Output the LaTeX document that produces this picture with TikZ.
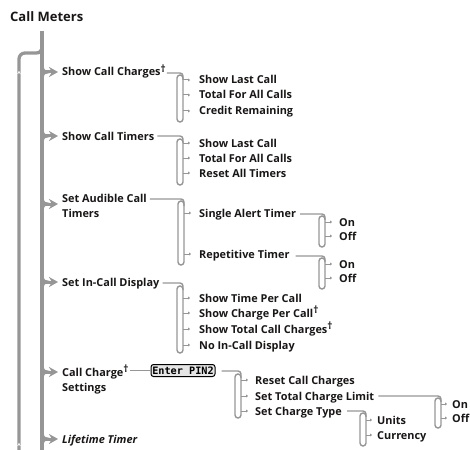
\documentclass[tikz,border=0pt]{standalone}
\usepackage{fontspec}
\setmainfont{Open Sans}
\newfontfamily\lcdfont{DejaVu Sans Mono}
\usetikzlibrary{arrows.meta,calc}
\definecolor{ln}{RGB}{150,150,150}
\definecolor{txt}{RGB}{25,22,22}
\newcommand{\trunkcusp}[1]{\draw[trunk] (42,#1-8) .. controls (42,#1-3) and (43,#1) .. (47,#1) .. controls (43,#1) and (42,#1+3) .. (42,#1+8);}
\newcommand{\mydagger}{\raisebox{3.2pt}{\fontsize{10}{10}\selectfont\bfseries †}}
\begin{document}
\begin{tikzpicture}[x=1pt,y=-1pt,
  trunk/.style={draw=ln,line width=3.3pt},
  sub/.style={draw=ln,line width=1.4pt,rounded corners=3pt},
  tick/.style={draw=ln,line width=1pt,-{Triangle[length=2pt,width=3pt]}},
  itm/.style={inner sep=0pt,anchor=west,text=txt,font=\fontsize{10.9}{15}\selectfont\bfseries,text height=8pt,text depth=0pt},
  mainarr/.style={draw=ln,line width=3pt,-{Stealth[length=9pt,width=10pt]}},
  pinbox/.style={draw=black,line width=1pt,fill=black!10,rounded corners=2.5pt,minimum width=64pt,minimum height=12pt,inner sep=0pt,font=\lcdfont\bfseries\fontsize{10.2}{10}\selectfont}]
\useasboundingbox (0,0) rectangle (470,449);

% title
\node[itm,font=\fontsize{13}{15}\selectfont\bfseries,text height=9pt] (title) at (10,17) {Call Meters};

% trunk and loop
\draw[trunk] (42,31) -- (42,452);
\draw[trunk] (42,46) .. controls (42,51) and (40,53) .. (36,53) [rounded corners=6pt] -- (19,53) -- (19,452);
\draw[white,line width=0.7pt] (17.6,74) -- (19,71.5) -- (20.4,74);
\draw[white,line width=0.7pt] (17.6,446) -- (19,443.5) -- (20.4,446);

% main items
\node[itm] (m1) at (62,72) {Show Call Charges\mydagger};
\node[itm] (m2) at (62,136) {Show Call Timers};
\node[itm] (m3a) at (62,198) {Set Audible Call};
\node[itm] (m3b) at (62,213) {Timers};
\node[itm] (m4) at (62,282) {Set In-Call Display};
\node[itm] (m5a) at (62,372) {Call Charge\mydagger};
\node[itm] (m5b) at (62,387) {Settings};
\node[itm,font=\fontsize{10.9}{15}\selectfont\bfseries\itshape] (m6) at (62,439) {Lifetime Timer};

\foreach \yy in {72,136,204,282,372,439} {\trunkcusp{\yy}}
\coordinate (t1) at (45,72);
\coordinate (t2) at (45,136);
\coordinate (t3) at (45,204);
\coordinate (t4) at (45,282);
\coordinate (t5) at (45,372);
\coordinate (t6) at (45,439);
\coordinate (e3) at (58,204);
\coordinate (e5) at (58,372);
\draw[mainarr,shorten >=4pt] (t1) -- (m1.west);
\draw[mainarr,shorten >=4pt] (t2) -- (m2.west);
\draw[mainarr] (t3) -- (e3);
\draw[mainarr,shorten >=4pt] (t4) -- (m4.west);
\draw[mainarr] (t5) -- (e5);
\draw[mainarr,shorten >=4pt] (t6) -- (m6.west);

% group 1
\node[itm] (a1) at (199,80) {Show Last Call};
\node[itm] (a2) at (199,95) {Total For All Calls};
\node[itm] (a3) at (199,111) {Credit Remaining};
\draw[sub] (177,75) rectangle (183,122);
\draw[sub,shorten <=1pt] (m1.east |- 0,73) -- (183,73) -- (183,80);
\foreach \c in {a1,a2,a3} \draw[tick,shorten >=9pt] (183,0 |- \c.west) -- (\c.west);

% group 2
\node[itm] (b1) at (199,143) {Show Last Call};
\node[itm] (b2) at (199,158) {Total For All Calls};
\node[itm] (b3) at (199,173) {Reset All Timers};
\draw[sub] (177,139) rectangle (183,185);
\draw[sub,shorten <=3pt] (m2.east |- 0,136) -- (183,136) -- (183,143);
\foreach \c in {b1,b2,b3} \draw[tick,shorten >=9pt] (183,0 |- \c.west) -- (\c.west);

% group 3
\node[itm] (c1) at (199,213) {Single Alert Timer};
\node[itm] (c2) at (199,254) {Repetitive Timer};
\draw[sub] (178,201) rectangle (184,265);
\draw[sub,shorten <=3pt] (m3a.east |- 0,199) -- (184,199) -- (184,206);
\foreach \c in {c1,c2} \draw[tick,shorten >=8pt] (184,0 |- \c.west) -- (\c.west);

% group 3a
\node[itm] (d1) at (339,222) {On};
\node[itm] (d2) at (339,236) {Off};
\draw[sub] (319,216) rectangle (325,247);
\draw[sub,shorten <=4pt] (c1.east |- 0,214) -- (325,214) -- (325,220);
\foreach \c in {d1,d2} \draw[tick,shorten >=7pt] (325,0 |- \c.west) -- (\c.west);

% group 3b
\node[itm] (e1) at (339,264) {On};
\node[itm] (e2) at (339,278) {Off};
\draw[sub] (319,258) rectangle (325,289);
\draw[sub,shorten <=6pt] (c2.east |- 0,256) -- (325,256) -- (325,262);
\foreach \c in {e1,e2} \draw[tick,shorten >=7pt] (325,0 |- \c.west) -- (\c.west);

% group 4
\node[itm] (f1) at (199,298) {Show Time Per Call};
\node[itm] (f2) at (199,313) {Show Charge Per Call\mydagger};
\node[itm] (f3) at (199,329) {Show Total Call Charges\mydagger};
\node[itm] (f4) at (199,345) {No In-Call Display};
\draw[sub] (177,286) rectangle (183,353);
\draw[sub,shorten <=3pt] (m4.east |- 0,283) -- (183,283) -- (183,290);
\foreach \c in {f1,f2,f3,f4} \draw[tick,shorten >=9pt] (183,0 |- \c.west) -- (\c.west);

% group 5
\node[pinbox] (pin) at (183,370.5) {Enter PIN2};
\draw[sub,shorten <=1pt] (m5a.east |- pin.west) -- (pin.west);
\node[itm] (g1) at (255,380) {Reset Call Charges};
\node[itm] (g2) at (255,396) {Set Total Charge Limit};
\node[itm] (g3) at (255,411) {Set Charge Type};
\draw[sub] (235,374) rectangle (241,418);
\draw[sub,shorten <=6pt] (pin.east |- 0,371) -- (241,371) -- (241,378);
\foreach \c in {g1,g2,g3} \draw[tick,shorten >=7pt] (241,0 |- \c.west) -- (\c.west);

% group 5a
\node[itm] (h1) at (452,404) {On};
\node[itm] (h2) at (452,418) {Off};
\draw[sub] (435,398) rectangle (441,428);
\draw[sub,shorten <=4pt] (g2.east |- 0,396) -- (441,396) -- (441,402);
\foreach \c in {h1,h2} \draw[tick,shorten >=5pt] (441,0 |- \c.west) -- (\c.west);

% group 5b
\node[itm] (i1) at (377,420) {Units};
\node[itm] (i2) at (377,435) {Currency};
\draw[sub] (360,413) rectangle (366,446);
\draw[sub,shorten <=5pt] (g3.east |- 0,411) -- (366,411) -- (366,417);
\foreach \c in {i1,i2} \draw[tick,shorten >=5pt] (366,0 |- \c.west) -- (\c.west);
\end{tikzpicture}
\end{document}
